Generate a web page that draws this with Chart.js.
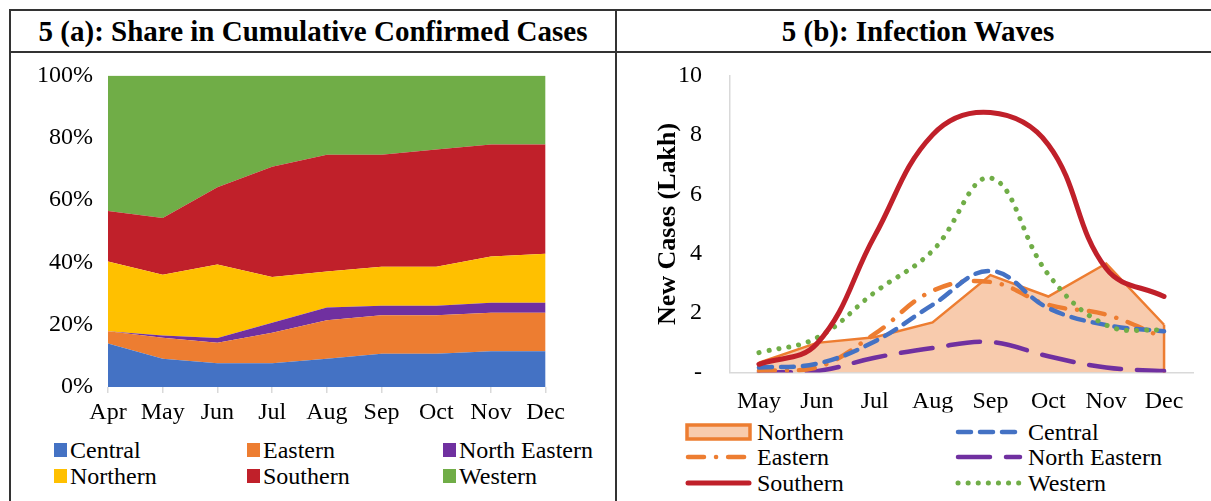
<!DOCTYPE html>
<html>
<head>
<meta charset="utf-8">
<script src="https://cdn.jsdelivr.net/npm/chart.js@4.4.1/dist/chart.umd.min.js"></script>
<style>
  body { margin: 0; background: #fff; width: 1211px; height: 501px; overflow: hidden; position: relative;
         font-family: "Liberation Serif", "Times New Roman", serif; color: #000; }
  .ln { position: absolute; background: #333; }
  .hd { position: absolute; top: 12px; height: 39px; line-height: 39px; font-weight: bold; font-size: 29px; text-align: center; }
  #wrapA { position: absolute; left: 10px; top: 46px; width: 560px; height: 381px; }
  #wrapB { position: absolute; left: 620px; top: 33px; width: 591px; height: 382px; }
  .lg { position: absolute; font-size: 24px; white-space: nowrap; line-height: 24px; height: 24px; }
  .lg .sw { position: absolute; left: 0; top: 5px; width: 13px; height: 14px; }
  .lg svg { position: absolute; left: 0; top: 0; }
</style>
</head>
<body>
<div class="ln" style="left:9px;top:9px;width:1202px;height:2px"></div>
<div class="ln" style="left:9px;top:51px;width:1202px;height:2px"></div>
<div class="ln" style="left:9px;top:9px;width:2px;height:492px"></div>
<div class="ln" style="left:615px;top:9px;width:2px;height:492px"></div>
<div class="hd" style="left:11px;width:604px">5 (a): Share in Cumulative Confirmed Cases</div>
<div class="hd" style="left:617px;width:602px">5 (b): Infection Waves</div>

<div id="wrapA"><canvas id="share"></canvas></div>
<div id="wrapB"><canvas id="waves"></canvas></div>
<div id="legA"></div>
<div id="legB"></div>

<script>
// 5(a) share in cumulative confirmed cases (%)
const shareMonths = ['Apr', 'May', 'Jun', 'Jul', 'Aug', 'Sep', 'Oct', 'Nov', 'Dec'];
const shareCentral = [14.0, 9.1, 7.6, 7.6, 9.1, 10.7, 10.7, 11.5, 11.5];
const shareEastern = [3.9, 6.7, 6.6, 9.8, 12.3, 12.3, 12.3, 12.3, 12.3];
const shareNorthEastern = [0.0, 0.7, 1.5, 3.2, 4.1, 3.1, 3.1, 3.2, 3.2];
const shareNorthern = [22.4, 19.5, 23.6, 14.7, 11.6, 12.5, 12.5, 14.9, 15.8];
const shareSouthern = [16.2, 18.2, 24.8, 35.4, 37.4, 35.9, 37.6, 35.9, 35.0];
const shareWestern = [43.5, 45.8, 35.9, 29.3, 25.5, 25.5, 23.8, 22.2, 22.2];
const shareTicks = [0, 20, 40, 60, 80, 100];

// 5(b) new cases (lakh)
const waveMonths = ['May', 'Jun', 'Jul', 'Aug', 'Sep', 'Oct', 'Nov', 'Dec'];
const waveNorthern = [0.33, 1.0, 1.19, 1.69, 3.28, 2.56, 3.67, 1.61];
const waveCentral = [0.17, 0.3, 1.05, 2.28, 3.42, 2.17, 1.6, 1.39];
const waveEastern = [0.06, 0.17, 1.3, 2.75, 3.05, 2.28, 1.95, 1.17];
const waveNorthEastern = [0.0, 0.05, 0.5, 0.83, 1.03, 0.55, 0.17, 0.05];
const waveSouthern = [0.28, 0.97, 4.6, 8.0, 8.75, 7.67, 3.5, 2.56];
const waveWestern = [0.67, 1.17, 2.7, 4.1, 6.55, 3.3, 1.6, 1.42];

const BLUE = '#4472C4', ORANGE = '#ED7D31', PURPLE = '#7030A0', GOLD = '#FFC000', RED = '#C0202A', GREEN = '#70AD47';

Chart.defaults.font.family = '"Liberation Serif", "Times New Roman", serif';
Chart.defaults.color = '#000';
Chart.defaults.animation = false;

function area(label, data, color) {
  return { label, data, backgroundColor: color, borderColor: color, borderWidth: 0,
           pointRadius: 0, fill: '-1', tension: 0 };
}

const shareSets = [
  area('Central', shareCentral, BLUE),
  area('Eastern', shareEastern, ORANGE),
  area('North Eastern', shareNorthEastern, PURPLE),
  area('Northern', shareNorthern, GOLD),
  area('Southern', shareSouthern, RED),
  area('Western', shareWestern, GREEN)
];
shareSets[0].fill = 'origin';

new Chart(document.getElementById('share'), {
  type: 'line',
  data: { labels: shareMonths, datasets: shareSets },
  options: {
    responsive: true,
    maintainAspectRatio: false,
    layout: { padding: { top: 0, right: 5, left: 0, bottom: 0 } },
    plugins: { legend: { display: false }, tooltip: { enabled: false } },
    scales: {
      x: {
        offset: false,
        grid: { drawOnChartArea: false, tickLength: 6, color: '#d9d9d9', lineWidth: 1.5 },
        border: { display: false },
        ticks: { font: { size: 24 }, padding: 5, maxRotation: 0 },
        afterFit: (s) => { s.height = 40; }
      },
      y: {
        stacked: true,
        min: 0, max: 100,
        afterBuildTicks: (s) => { s.ticks = shareTicks.map(v => ({ value: v })); },
        grid: { display: false, drawTicks: false },
        border: { display: false },
        ticks: { font: { size: 24 }, padding: 15, callback: v => v + '%' },
        afterFit: (s) => { s.width = 98; }
      }
    }
  }
});

// legend for 5(a)
const legA = document.getElementById('legA');
const colXA = [54, 247, 443], rowYA = [438, 464];
shareSets.forEach((d, i) => {
  const el = document.createElement('div');
  el.className = 'lg';
  el.style.left = colXA[i % 3] + 'px';
  el.style.top = rowYA[Math.floor(i / 3)] + 'px';
  el.style.paddingLeft = '16px';
  el.innerHTML = '<span class="sw" style="background:' + d.backgroundColor + '"></span>' + d.label;
  legA.appendChild(el);
});

// 5(b) waves
const waveSets = [
  { label: 'Northern', data: waveNorthern, borderColor: ORANGE, backgroundColor: '#F8CBAD',
    borderWidth: 2.5, fill: 'origin', tension: 0, order: 10, swatch: 'box' },
  { label: 'Central', data: waveCentral, borderColor: BLUE, borderWidth: 4.5,
    borderDash: [13, 9], borderCapStyle: 'round', fill: false, tension: 0.4, order: 3 },
  { label: 'Eastern', data: waveEastern, borderColor: ORANGE, borderWidth: 4.5,
    borderDash: [16, 12, 0.1, 12], borderCapStyle: 'round', fill: false, tension: 0.4, order: 4 },
  { label: 'North Eastern', data: waveNorthEastern, borderColor: PURPLE, borderWidth: 4.5,
    borderDash: [32, 16], borderCapStyle: 'round', fill: false, tension: 0.4, order: 5 },
  { label: 'Southern', data: waveSouthern, borderColor: RED, borderWidth: 5,
    borderCapStyle: 'round', fill: false, tension: 0.4, order: 1 },
  { label: 'Western', data: waveWestern, borderColor: GREEN, borderWidth: 5,
    borderDash: [0.1, 10], borderCapStyle: 'round', fill: false, tension: 0.4, order: 2 }
];
waveSets.forEach(d => { d.pointRadius = 0; });

// closes the Northern area at its ends, like the Excel area outline
const areaEdges = {
  id: 'areaEdges',
  afterDatasetDraw(chart, args) {
    if (args.index !== 0) return;
    const meta = chart.getDatasetMeta(0);
    const y0 = chart.scales.y.getPixelForValue(0);
    const ctx = chart.ctx;
    ctx.save();
    ctx.strokeStyle = ORANGE;
    ctx.lineWidth = 2.5;
    [meta.data[0], meta.data[meta.data.length - 1]].forEach(p => {
      ctx.beginPath();
      ctx.moveTo(p.x, p.y);
      ctx.lineTo(p.x, y0);
      ctx.stroke();
    });
    ctx.restore();
  }
};

new Chart(document.getElementById('waves'), {
  type: 'line',
  data: { labels: waveMonths, datasets: waveSets },
  plugins: [areaEdges],
  options: {
    responsive: true,
    maintainAspectRatio: false,
    layout: { padding: { top: 0, right: 18, left: 0, bottom: 0 } },
    plugins: { legend: { display: false }, tooltip: { enabled: false } },
    scales: {
      x: {
        offset: true,
        grid: { display: false, drawTicks: false },
        border: { color: '#d9d9d9', width: 1.5 },
        ticks: { font: { size: 24 }, padding: 15, maxRotation: 0 },
        afterFit: (s) => { s.height = 40; }
      },
      y: {
        min: 0, max: 10,
        ticks: { stepSize: 2, font: { size: 24 }, padding: 28, callback: v => v === 0 ? '-' : v },
        grid: { display: false, drawTicks: false },
        border: { color: '#d9d9d9', width: 1.5 },
        title: { display: true, text: 'New Cases (Lakh)', font: { size: 26, weight: 'bold' },
                 padding: { top: 33, bottom: 0 } },
        afterFit: (s) => { s.width = 110; }
      }
    }
  }
});

// legend for 5(b)
const legB = document.getElementById('legB');
const swXB = [685, 955], txtXB = [757, 1028], rowYB = [420, 445, 471];
waveSets.forEach((d, i) => {
  const col = i % 2, row = Math.floor(i / 2);
  const w = txtXB[col] - swXB[col] - 5;
  let svg;
  if (d.swatch === 'box') {
    svg = '<svg width="' + w + '" height="24"><rect x="2" y="5" width="' + (w - 4) + '" height="14" fill="' +
      d.backgroundColor + '" stroke="' + d.borderColor + '" stroke-width="3.5"/></svg>';
  } else {
    const dash = d.borderDash ? ' stroke-dasharray="' + d.borderDash.join(' ') + '"' : '';
    svg = '<svg width="' + w + '" height="24"><line x1="3" y1="12" x2="' + (w - 3) + '" y2="12" stroke="' +
      d.borderColor + '" stroke-width="' + d.borderWidth + '" stroke-linecap="round"' + dash + '/></svg>';
  }
  const el = document.createElement('div');
  el.className = 'lg';
  el.style.left = swXB[col] + 'px';
  el.style.top = rowYB[row] + 'px';
  el.style.paddingLeft = (txtXB[col] - swXB[col]) + 'px';
  el.innerHTML = svg + d.label;
  legB.appendChild(el);
});
</script>
</body>
</html>
